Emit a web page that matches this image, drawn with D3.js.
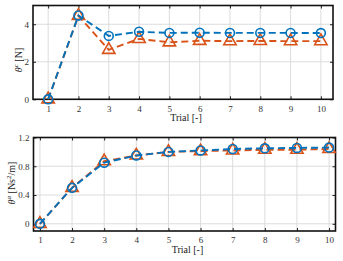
<!DOCTYPE html>
<html>
<head>
<meta charset="utf-8">
<script src="https://cdn.jsdelivr.net/npm/d3@7"></script>
<style>
  body { margin: 0; background: #fff; }
  svg { display: block; }
  svg text { font-family: "Times New Roman", "Liberation Serif", "DejaVu Serif", serif; }
</style>
</head>
<body>
<svg id="chart" width="343" height="261"></svg>
<script>
/* données */
const trials = [1, 2, 3, 4, 5, 6, 7, 8, 9, 10]
const forceBlue = [0, 4.47, 3.38, 3.6, 3.54, 3.55, 3.54, 3.54, 3.54, 3.53]
const forceOrange = [0, 4.45, 2.64, 3.22, 3.04, 3.12, 3.1, 3.11, 3.1, 3.1]
const dampBlue = [0, 0.5, 0.85, 0.95, 1.0, 1.02, 1.04, 1.05, 1.055, 1.06]
const dampOrange = [0, 0.5, 0.87, 0.95, 1.0, 1.01, 1.02, 1.03, 1.03, 1.04]
const forceTicks = [0, 2, 4]
const dampTicks = [0, 0.4, 0.8, 1.2]

const blue = '#0072BD'
const orange = '#D95319'

const svg = d3.select('#chart')

const drawPanel = (p) => {
    const g = svg.append('g')
    const x = d3.scaleLinear().domain(p.xDomain).range(p.xRange)
    const y = d3.scaleLinear().domain(p.yDomain).range(p.yRange)
    const [x0, x1] = p.xRange
    const [y0, y1] = p.yRange

    /* grille */
    g.selectAll('.gx').data(trials).enter().append('line')
        .attr('x1', d => x(d)).attr('x2', d => x(d))
        .attr('y1', y0).attr('y2', y1)
        .attr('stroke', '#dcdcdc').attr('stroke-width', 1)
    g.selectAll('.gy').data(p.yTicks).enter().append('line')
        .attr('x1', x0).attr('x2', x1)
        .attr('y1', d => y(d)).attr('y2', d => y(d))
        .attr('stroke', '#dcdcdc').attr('stroke-width', 1)

    /* axes */
    const xAxis = d3.axisBottom(x).tickValues(trials).tickSize(-3).tickPadding(6).tickFormat(d3.format('d'))
    const gx = g.append('g').attr('transform', 'translate(0,' + y0 + ')').call(xAxis)
    const xTop = d3.axisTop(x).tickValues(trials).tickSize(-3).tickFormat('')
    const gxt = g.append('g').attr('transform', 'translate(0,' + y1 + ')').call(xTop)
    const yAxis = d3.axisLeft(y).tickValues(p.yTicks).tickSize(-3).tickPadding(4).tickFormat(p.fmt)
    const gy = g.append('g').attr('transform', 'translate(' + x0 + ',0)').call(yAxis)
    const yRight = d3.axisRight(y).tickValues(p.yTicks).tickSize(-3).tickFormat('')
    const gyr = g.append('g').attr('transform', 'translate(' + x1 + ',0)').call(yRight)
    ;[gx, gxt, gy, gyr].forEach(a => {
        a.attr('font-family', null)
        a.select('.domain').remove()
        a.selectAll('line').attr('stroke', '#222').attr('stroke-width', 1)
        a.selectAll('text').attr('font-size', 9).attr('fill', '#333')
    })

    /* cadre */
    g.append('rect')
        .attr('x', x0).attr('y', y1)
        .attr('width', x1 - x0).attr('height', y0 - y1)
        .attr('fill', 'none').attr('stroke', '#111').attr('stroke-width', 1.6)

    /* séries */
    const line = d3.line().x((d, i) => x(trials[i])).y(d => y(d))
    const drawSerie = (vals, color, shape) => {
        g.append('path').datum(vals)
            .attr('d', line)
            .attr('fill', 'none').attr('stroke', color)
            .attr('stroke-width', 1.9).attr('stroke-dasharray', '7,4')
        g.selectAll(null).data(vals).enter().append('path')
            .attr('transform', (d, i) => 'translate(' + x(trials[i]) + ',' + y(d) + ')')
            .attr('d', shape)
            .attr('fill', 'none').attr('stroke', color).attr('stroke-width', 1.6)
    }
    const tri = d3.symbol().type(d3.symbolTriangle).size(66)()
    const circ = d3.symbol().type(d3.symbolCircle).size(62)()
    drawSerie(p.orange, orange, tri)
    drawSerie(p.blue, blue, circ)

    /* titres des axes */
    g.append('text')
        .attr('x', (x0 + x1) / 2 + 3).attr('y', y0 + 22)
        .attr('text-anchor', 'middle').attr('font-size', 10).attr('fill', '#222')
        .text('Trial [-]')
    const yl = g.append('text')
        .attr('transform', 'translate(' + p.labelX + ',' + p.labelY + ') rotate(-90)')
        .attr('text-anchor', 'middle').attr('font-size', 10).attr('fill', '#222')
    yl.append('tspan').attr('font-style', 'italic').text('θ')
    yl.append('tspan').attr('font-size', 7).attr('dy', -4).attr('font-style', 'italic').text(p.sup)
    p.unit(yl)
}

drawPanel({
    xDomain: [0.5, 10.4], xRange: [33, 333],
    yDomain: [0, 5], yRange: [99.3, 5.5],
    yTicks: forceTicks, fmt: d3.format('d'),
    blue: forceBlue, orange: forceOrange,
    sup: 'c', labelX: 22, labelY: 60,
    unit: (t) => { t.append('tspan').attr('dy', 4).text(' [N]') }
})

drawPanel({
    xDomain: [0.8, 10.2], xRange: [33.5, 335.5],
    yDomain: [-0.1, 1.2], yRange: [231, 137.5],
    yTicks: dampTicks, fmt: d => d === 0 ? '0' : d3.format('.1f')(d),
    blue: dampBlue, orange: dampOrange,
    sup: 'a', labelX: 15, labelY: 183,
    unit: (t) => {
        t.append('tspan').attr('dy', 4).text(' [Ns')
        t.append('tspan').attr('font-size', 7).attr('dy', -4).text('2')
        t.append('tspan').attr('dy', 4).text('/m]')
    }
})
</script>
</body>
</html>
